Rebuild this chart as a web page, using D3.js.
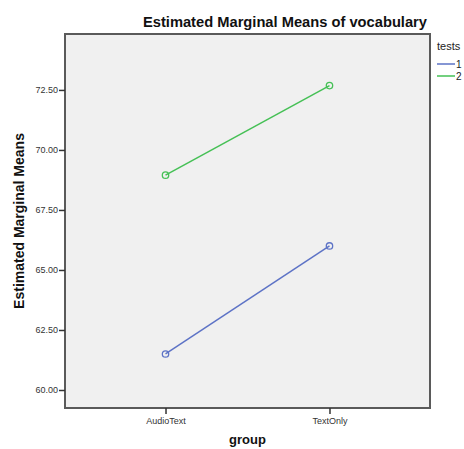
<!DOCTYPE html>
<html><head><meta charset="utf-8">
<script src="https://cdn.jsdelivr.net/npm/d3@7"></script>
<style>body{margin:0;background:#fff;} text{font-family:"Liberation Sans",Arial,sans-serif;}</style>
</head><body>
<svg id="c" width="464" height="449"></svg>
<script>
const categories = ["AudioText", "TextOnly"];
const seriesNames = ["1", "2"];
const series1 = [61.50, 66.00];
const series2 = [68.95, 72.68];
const yTicks = [60.00, 62.50, 65.00, 67.50, 70.00, 72.50];
const colors = ["#5d73c6", "#45c055"];

const svg = d3.select("#c");
const L = 65, R = 430, T = 34, B = 408;
const x = d3.scalePoint().domain(categories).range([L, R]).padding(0.613);
const y = d3.scaleLinear().domain([59.25, 74.83]).range([B, T]);

svg.append("rect").attr("x", L).attr("y", T).attr("width", R - L).attr("height", B - T)
  .attr("fill", "#f0f0f0").attr("stroke", "#5a5a5a").attr("stroke-width", 2);

const yAxis = svg.append("g").attr("transform", `translate(${L},0)`)
  .call(d3.axisLeft(y).tickValues(yTicks).tickFormat(d3.format(".2f")).tickSize(6).tickPadding(1));
yAxis.select(".domain").remove();
yAxis.selectAll("line").attr("stroke", "#333").attr("stroke-width", 1.5);
yAxis.selectAll("text").attr("font-size", 9).attr("fill", "#333").attr("font-family", "Liberation Sans, Arial");

const xAxis = svg.append("g").attr("transform", `translate(0,${B})`)
  .call(d3.axisBottom(x).tickSize(6).tickPadding(4));
xAxis.select(".domain").remove();
xAxis.selectAll("line").attr("stroke", "#333").attr("stroke-width", 1.5);
xAxis.selectAll("text").attr("font-size", 9).attr("fill", "#333").attr("font-family", "Liberation Sans, Arial");

const data = [series1, series2];
const line = d3.line().x((d, i) => x(categories[i])).y(d => y(d));
data.forEach((s, k) => {
  svg.append("path").datum(s).attr("d", line).attr("fill", "none")
    .attr("stroke", colors[k]).attr("stroke-width", 1.5);
  svg.selectAll(null).data(s).enter().append("circle")
    .attr("cx", (d, i) => x(categories[i])).attr("cy", d => y(d)).attr("r", 3.2)
    .attr("fill", "none").attr("stroke", colors[k]).attr("stroke-width", 1.3);
});

svg.append("text").attr("x", 427).attr("y", 27).attr("text-anchor", "end")
  .attr("font-size", 14.7).attr("font-weight", "bold").attr("fill", "#111")
  .text("Estimated Marginal Means of vocabulary");
svg.append("text").attr("transform", `translate(24,${(T + B) / 2}) rotate(-90)`)
  .attr("text-anchor", "middle").attr("font-size", 14).attr("font-weight", "bold").attr("fill", "#111")
  .text("Estimated Marginal Means");
svg.append("text").attr("x", (L + R) / 2).attr("y", 444).attr("text-anchor", "middle")
  .attr("font-size", 13).attr("font-weight", "bold").attr("fill", "#111").text("group");

const lg = svg.append("g");
lg.append("text").attr("x", 437).attr("y", 50).attr("font-size", 11).attr("fill", "#222").text("tests");
seriesNames.forEach((n, k) => {
  const yy = 64 + k * 12;
  lg.append("line").attr("x1", 437).attr("x2", 455).attr("y1", yy).attr("y2", yy)
    .attr("stroke", colors[k]).attr("stroke-width", 1.5);
  lg.append("text").attr("x", 456).attr("y", yy + 3.5).attr("font-size", 10).attr("fill", "#222").text(n);
});
</script>
</body></html>
